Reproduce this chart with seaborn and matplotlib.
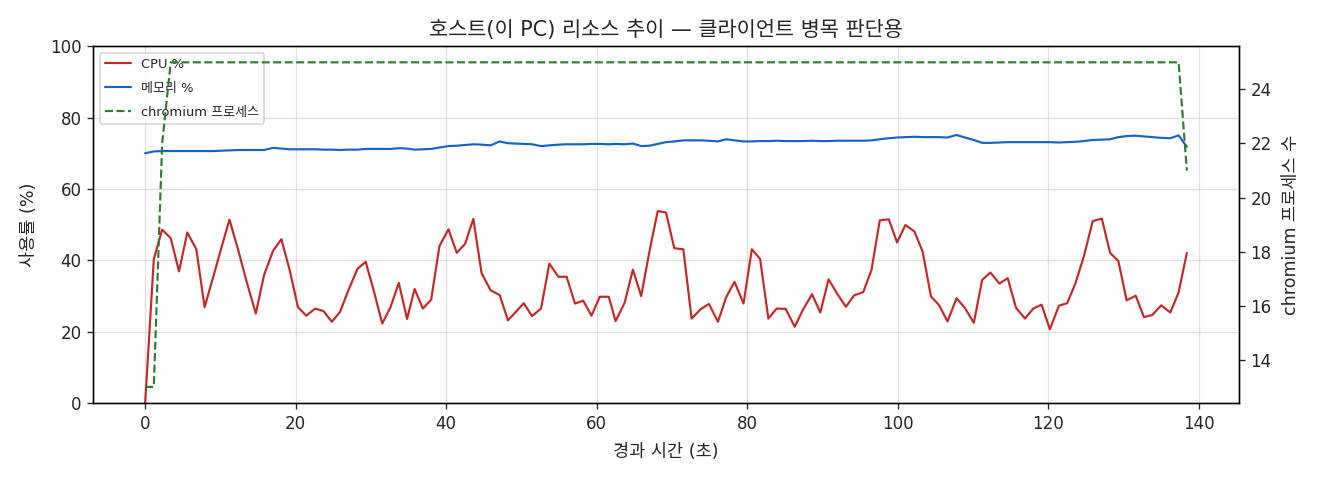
import matplotlib
matplotlib.use("Agg")
import matplotlib.pyplot as plt
import seaborn as sns
import pandas as pd

sns.set_style("ticks")
plt.rcParams['font.family'] = ['DejaVu Sans', 'Noto Sans CJK KR']
plt.rcParams['axes.unicode_minus'] = False

elapsed_s = [
    0.0, 1.15, 2.26, 3.4, 4.5, 5.6, 6.8, 7.9, 9.0, 10.1,
    11.2, 12.4, 13.5, 14.7, 15.8, 17.0, 18.1, 19.2, 20.3, 21.4,
    22.6, 23.7, 24.8, 25.9, 27.0, 28.2, 29.3, 30.4, 31.5, 32.6,
    33.7, 34.8, 35.8, 36.9, 38.0, 39.1, 40.3, 41.4, 42.5, 43.6,
    44.7, 45.9, 47.1, 48.2, 49.3, 50.3, 51.4, 52.6, 53.7, 54.9,
    56.0, 57.1, 58.2, 59.3, 60.4, 61.6, 62.5, 63.7, 64.8, 65.9,
    67.0, 68.1, 69.2, 70.3, 71.5, 72.6, 73.8, 74.9, 76.1, 77.2,
    78.3, 79.5, 80.6, 81.7, 82.8, 83.9, 85.1, 86.3, 87.4, 88.6,
    89.7, 90.8, 91.9, 93.1, 94.2, 95.4, 96.5, 97.6, 98.8, 99.9,
    101.0, 102.2, 103.3, 104.4, 105.5, 106.6, 107.8, 108.9, 110.1, 111.2,
    112.3, 113.5, 114.6, 115.7, 116.9, 118.0, 119.1, 120.2, 121.4, 122.5,
    123.6, 124.7, 125.9, 127.1, 128.2, 129.3, 130.4, 131.6, 132.7, 133.8,
    135.0, 136.2, 137.3, 138.4,
]

cpu_pct = [
    0.0, 40.3, 48.6, 46.2, 36.9, 47.8, 43.1, 26.9, 35.0, 43.3,
    51.4, 42.6, 33.9, 25.1, 35.9, 42.7, 45.9, 37.3, 26.9, 24.5,
    26.5, 25.8, 22.8, 25.6, 31.6, 37.6, 39.6, 31.3, 22.3, 26.9,
    33.7, 23.6, 32.0, 26.5, 29.0, 44.0, 48.7, 42.1, 44.6, 51.6,
    36.4, 31.6, 30.3, 23.2, 25.7, 28.0, 24.4, 26.5, 39.1, 35.4,
    35.4, 27.9, 28.7, 24.5, 29.8, 29.8, 23.0, 28.1, 37.4, 30.0,
    42.5, 53.8, 53.4, 43.4, 43.1, 23.7, 26.3, 27.8, 22.8, 29.7,
    34.0, 27.9, 43.1, 40.4, 23.7, 26.5, 26.4, 21.4, 26.2, 30.5,
    25.4, 34.7, 30.8, 27.0, 30.2, 31.1, 37.3, 51.2, 51.5, 45.0,
    49.9, 48.1, 42.4, 29.9, 27.4, 22.9, 29.4, 26.7, 22.5, 34.5,
    36.6, 33.5, 35.0, 26.7, 23.7, 26.5, 27.6, 20.7, 27.3, 28.0,
    33.6, 41.0, 51.0, 51.7, 42.1, 39.8, 28.8, 30.1, 24.1, 24.7,
    27.4, 25.4, 31.0, 42.1,
]

mem_pct = [
    70.0, 70.5, 70.6, 70.6, 70.6, 70.6, 70.6, 70.6, 70.6, 70.7,
    70.8, 70.9, 70.9, 70.9, 70.9, 71.5, 71.3, 71.1, 71.1, 71.1,
    71.1, 71.0, 71.0, 70.9, 71.0, 71.0, 71.2, 71.2, 71.2, 71.2,
    71.4, 71.3, 71.0, 71.1, 71.2, 71.6, 72.0, 72.1, 72.3, 72.5,
    72.4, 72.2, 73.3, 72.8, 72.7, 72.6, 72.5, 72.0, 72.2, 72.4,
    72.5, 72.5, 72.5, 72.6, 72.6, 72.5, 72.6, 72.5, 72.7, 72.0,
    72.1, 72.6, 73.1, 73.3, 73.6, 73.6, 73.6, 73.5, 73.3, 73.9,
    73.6, 73.3, 73.3, 73.4, 73.4, 73.5, 73.4, 73.4, 73.4, 73.5,
    73.4, 73.4, 73.5, 73.5, 73.5, 73.5, 73.6, 73.9, 74.2, 74.4,
    74.5, 74.6, 74.5, 74.5, 74.5, 74.4, 75.1, 74.4, 73.7, 72.9,
    72.9, 73.0, 73.1, 73.1, 73.1, 73.1, 73.1, 73.1, 73.0, 73.1,
    73.2, 73.4, 73.7, 73.8, 73.9, 74.5, 74.8, 74.9, 74.7, 74.5,
    74.3, 74.2, 75.0, 71.8,
]

chromium_procs = [
    13, 13, 22, 25, 25, 25, 25, 25, 25, 25,
    25, 25, 25, 25, 25, 25, 25, 25, 25, 25,
    25, 25, 25, 25, 25, 25, 25, 25, 25, 25,
    25, 25, 25, 25, 25, 25, 25, 25, 25, 25,
    25, 25, 25, 25, 25, 25, 25, 25, 25, 25,
    25, 25, 25, 25, 25, 25, 25, 25, 25, 25,
    25, 25, 25, 25, 25, 25, 25, 25, 25, 25,
    25, 25, 25, 25, 25, 25, 25, 25, 25, 25,
    25, 25, 25, 25, 25, 25, 25, 25, 25, 25,
    25, 25, 25, 25, 25, 25, 25, 25, 25, 25,
    25, 25, 25, 25, 25, 25, 25, 25, 25, 25,
    25, 25, 25, 25, 25, 25, 25, 25, 25, 25,
    25, 25, 25, 21,
]

df = pd.DataFrame({
    "t": elapsed_s,
    "cpu": cpu_pct,
    "mem": mem_pct,
    "proc": chromium_procs,
})

FS = 10
fig, ax = plt.subplots(figsize=(11, 4), dpi=120)
fig.subplots_adjust(left=0.0705, right=0.9386, bottom=0.160, top=0.904)

sns.lineplot(data=df, x="t", y="cpu", ax=ax, color="#c62828", linewidth=1.3, label="CPU %")
sns.lineplot(data=df, x="t", y="mem", ax=ax, color="#1565c0", linewidth=1.3, label="메모리 %")
ax.set_ylim(0, 100)
ax.set_xlabel("경과 시간 (초)", fontsize=10.5, labelpad=6)
ax.set_ylabel("사용률 (%)", fontsize=10.5, labelpad=7)
ax.grid(True, color="#cccccc", alpha=0.6, linewidth=0.8)
ax.tick_params(labelsize=FS)

ax2 = ax.twinx()
sns.lineplot(data=df, x="t", y="proc", ax=ax2, color="#2e7d32", linewidth=1.3,
             linestyle="--", label="chromium 프로세스")
ax2.set_ylabel("chromium 프로세스 수", fontsize=10.5, labelpad=6)
ax2.tick_params(labelsize=FS)

h1, l1 = ax.get_legend_handles_labels()
h2, l2 = ax2.get_legend_handles_labels()
if ax2.get_legend() is not None:
    ax2.get_legend().remove()
ax.legend(h1 + h2, l1 + l2, loc="upper left", fontsize=7.8, framealpha=0.8,
          labelspacing=0.85)

for a in (ax, ax2):
    for s in a.spines.values():
        s.set_visible(True)
        s.set_color("black")

ax.set_title("호스트(이 PC) 리소스 추이 — 클라이언트 병목 판단용", fontsize=12.5)

fig.savefig("out.png", dpi=120)
